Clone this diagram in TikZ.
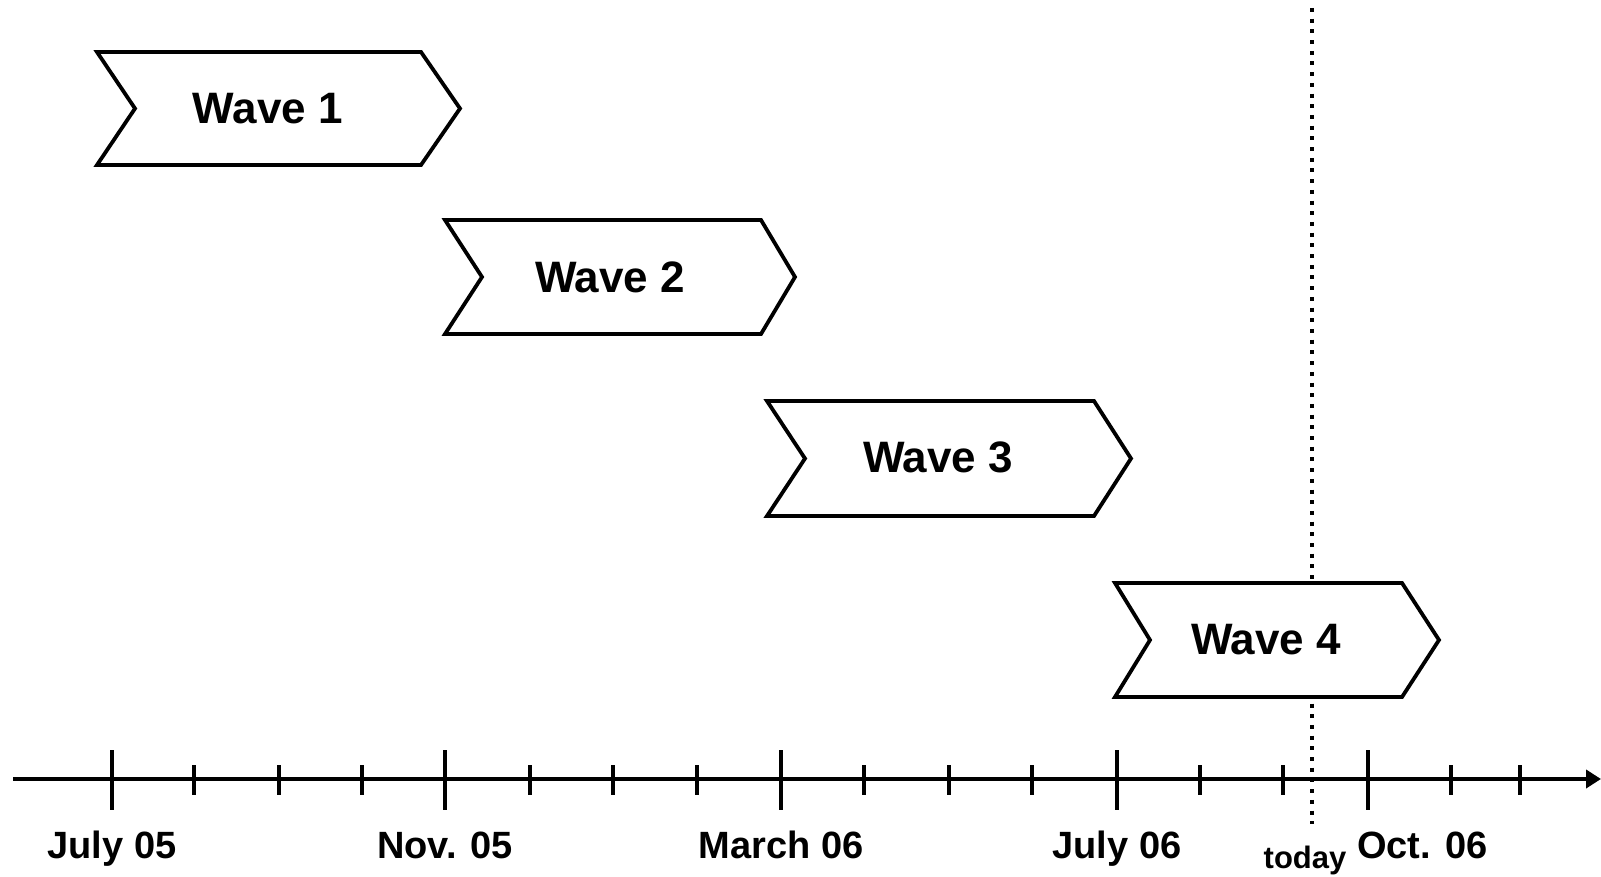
\documentclass[tikz,border=0pt]{standalone}
\usepackage{fontspec}
\setmainfont{Liberation Sans}
\usetikzlibrary{arrows.meta}
\begin{document}
\begin{tikzpicture}[x=1pt,y=-1pt,
  chev/.style={draw=black,line width=3.8pt,fill=white,line join=miter},
  wavelabel/.style={font=\bfseries\fontsize{44}{48}\selectfont,inner sep=0pt},
  datelabel/.style={font=\bfseries\fontsize{38}{42}\selectfont,inner sep=0pt,anchor=base},
  axisline/.style={line width=4pt,-{Triangle[length=15pt,width=18pt]}},
  majortick/.style={line width=4pt},
  minortick/.style={line width=4pt},
  todayline/.style={line width=4pt,dash pattern=on 4pt off 6.7pt}]
\useasboundingbox (0,0) rectangle (1601,877);

% today marker (behind the chevrons)
\coordinate (todaytop) at (1312,8);
\coordinate (todaybot) at (1312,824);
\draw[todayline] (todaytop) -- (todaybot);

% chevron: left, shoulder, tip, top, bottom, notch depth
\newcommand{\chevron}[6]{%
  \draw[chev] (#1,#4) -- (#2,#4) -- (#3,{(#4+#5)/2}) -- (#2,#5) -- (#1,#5)
    -- ({#1+#6},{(#4+#5)/2}) -- cycle;}

\chevron{97}{421}{460}{52}{165}{38}
\chevron{445}{761}{795}{220}{334}{37}
\chevron{767}{1094}{1131}{401}{516}{38}
\chevron{1115}{1402}{1439}{583}{697}{35}

\node[wavelabel] (w1) at (268,109) {Wave 1};
\node[wavelabel] (w2) at (610,277) {Wave 2};
\node[wavelabel] (w3) at (938,457) {Wave 3};
\node[wavelabel] (w4) at (1266,640) {Wave 4};

% time axis
\coordinate (axstart) at (13,779);
\coordinate (axend) at (1601,779);
\draw[axisline] (axstart) -- (axend);

\foreach \x in {112,445,781,1117,1368}
  \draw[majortick] (\x,750) -- (\x,810);
\foreach \x in {194,279,362,530,613,697,864,949,1032,1200,1283,1451,1520}
  \draw[minortick] (\x,765) -- (\x,795);

\node[datelabel] (d1) at (112,858) {July 05};
\node[datelabel] (d2) at (445,858) {Nov. 05};
\node[datelabel] (d3) at (781,858) {March 06};
\node[datelabel] (d4) at (1117,858) {July 06};
\node[datelabel,anchor=base west] (d5) at (1357,858) {Oct. 06};
\node[font=\bfseries\fontsize{31}{34}\selectfont,inner sep=0pt,anchor=base] (today) at (1305,868) {today};
\end{tikzpicture}
\end{document}
